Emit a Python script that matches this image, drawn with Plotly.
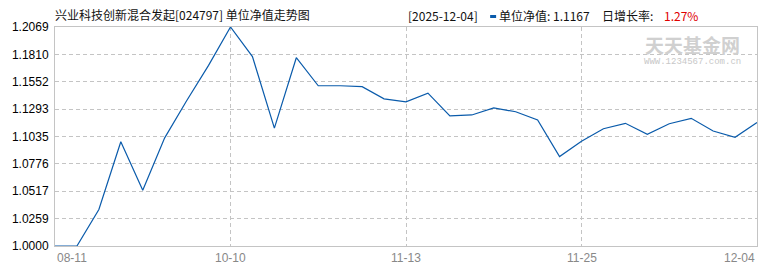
import plotly.graph_objects as go

dates = ["08-11", "08-15", "08-22", "08-29", "09-05", "09-12", "09-19", "09-26",
         "10-10", "10-17", "10-24", "10-31", "11-07", "11-10", "11-11", "11-12",
         "11-13", "11-14", "11-17", "11-18", "11-19", "11-20", "11-21", "11-24",
         "11-25", "11-26", "11-27", "11-28", "11-30", "12-01", "12-02", "12-03",
         "12-04"]
nav = [1.0000, 1.0000, 1.0345, 1.0985, 1.0526, 1.1022, 1.1372, 1.1706,
       1.2069, 1.1790, 1.1113, 1.1779, 1.1514, 1.1514, 1.1505, 1.1390,
       1.1362, 1.1444, 1.1230, 1.1238, 1.1304, 1.1268, 1.1190, 1.0845,
       1.0990, 1.1108, 1.1159, 1.1055, 1.1155, 1.1206, 1.1086, 1.1027,
       1.1167]
x_label_idx = [0, 8, 16, 24, 32]
y_ticks = ["1.0000", "1.0259", "1.0517", "1.0776", "1.1035", "1.1293", "1.1552", "1.1810", "1.2069"]

title_text = "兴业科技创新混合发起[024797] 单位净值走势图"
info_date = "[2025-12-04]"
info_nav = "单位净值: 1.1167"
info_rate_label = "日增长率:"
info_rate = "1.27%"

W, H = 770, 270
L, R, T, B = 53, 12, 27, 24
PW, PH = W - L - R, H - T - B


def px(xp):
    return (xp - L) / PW


def py(yp):
    return (H - B - yp) / PH


x = list(range(len(dates)))
yvals = [float(v) for v in y_ticks]

fig = go.Figure()
fig.add_trace(go.Scatter(x=x, y=nav, mode="lines",
                         line=dict(color="#0a5bab", width=1.2),
                         hoverinfo="skip", showlegend=False))

grid = "#c4c4c4"
fig.update_layout(
    width=W, height=H,
    margin=dict(l=L, r=R, t=T, b=B, pad=0),
    paper_bgcolor="white", plot_bgcolor="white",
    font=dict(family="Liberation Sans, Noto Sans CJK SC", size=12, color="#000"),
    xaxis=dict(range=[0, len(dates) - 1], tickvals=x_label_idx[1:-1],
               showticklabels=False, showgrid=True, gridcolor=grid,
               griddash="4px,3px", gridwidth=1, zeroline=False,
               showline=True, linecolor=grid, linewidth=1, mirror=True,
               ticks=""),
    yaxis=dict(range=[yvals[0], yvals[-1]], tickvals=yvals, ticktext=y_ticks,
               showgrid=True, gridcolor=grid, griddash="4px,3px", gridwidth=1,
               zeroline=False, showline=True, linecolor=grid, linewidth=1,
               mirror=True, ticks="outside", ticklen=3, tickcolor="rgba(0,0,0,0)",
               tickfont=dict(family="Liberation Sans", size=12, color="#000")),
)

ann = []
n = len(x_label_idx)
for k, i in enumerate(x_label_idx):
    anchor = "left" if k == 0 else ("right" if k == n - 1 else "center")
    ann.append(dict(x=i, y=0, xref="x", yref="paper", yanchor="top", yshift=-3,
                    xanchor=anchor, text=dates[i], showarrow=False,
                    font=dict(family="Liberation Sans", size=12, color="#888")))

cjk = "Noto Sans CJK SC"
ann.append(dict(x=px(51), y=py(14), xref="paper", yref="paper", xanchor="left",
                yanchor="middle", text=title_text, showarrow=False,
                font=dict(family=cjk, size=12, color="#111")))
ann.append(dict(x=px(406), y=py(16), xref="paper", yref="paper", xanchor="left",
                yanchor="middle", text=info_date, showarrow=False,
                font=dict(family=cjk, size=12, color="#111")))
ann.append(dict(x=px(497), y=py(16), xref="paper", yref="paper", xanchor="left",
                yanchor="middle", text=info_nav, showarrow=False,
                font=dict(family=cjk, size=12, color="#111")))
ann.append(dict(x=px(600), y=py(16), xref="paper", yref="paper", xanchor="left",
                yanchor="middle", text=info_rate_label, showarrow=False,
                font=dict(family=cjk, size=12, color="#111")))
ann.append(dict(x=px(663), y=py(16), xref="paper", yref="paper", xanchor="left",
                yanchor="middle", text=info_rate, showarrow=False,
                font=dict(family=cjk, size=12, color="#e00000")))
# watermark
ann.append(dict(x=px(693), y=py(44), xref="paper", yref="paper", xanchor="center",
                yanchor="middle", text="<b>天天基金网</b>", showarrow=False,
                font=dict(family=cjk, size=19, color="#d0d0d0")))
ann.append(dict(x=px(693), y=py(62), xref="paper", yref="paper", xanchor="center",
                yanchor="middle", text="WWW.1234567.com.cn", showarrow=False,
                font=dict(family="Liberation Mono", size=9, color="#c8c8c8")))
fig.update_layout(annotations=ann)

fig.add_shape(type="rect", xref="paper", yref="paper",
              x0=px(490), x1=px(496), y0=py(18), y1=py(15),
              fillcolor="#0a5bab", line=dict(width=0))

fig.write_html("out.html")
